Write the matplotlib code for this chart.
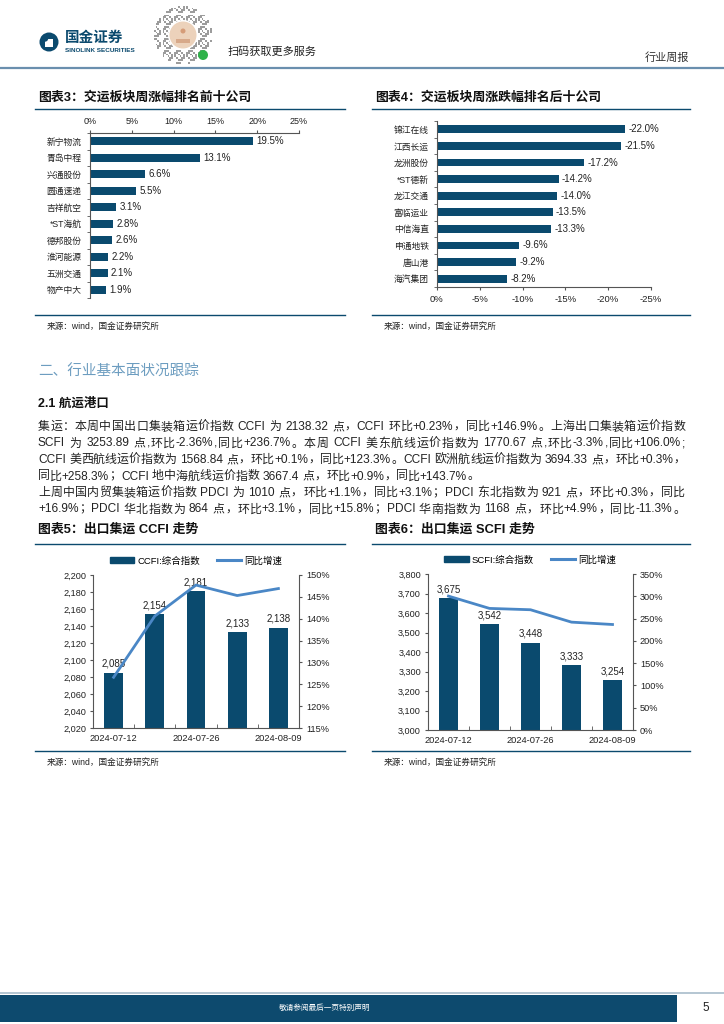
import re
import numpy as np
import matplotlib
matplotlib.use('Agg')
import matplotlib.pyplot as plt
from matplotlib.patches import Rectangle, Circle
from matplotlib.lines import Line2D
from matplotlib import font_manager as fm
from matplotlib.ft2font import FT2Font
from matplotlib.ticker import FuncFormatter, FixedLocator

plt.rcParams['font.family'] = ['Liberation Sans', 'Noto Sans CJK SC', 'DejaVu Sans']

# ---------------- data ----------------
top_names = ['新宁物流', '青岛中程', '兴通股份', '圆通速递', '吉祥航空',
             '*ST海航', '德邦股份', '淮河能源', '五洲交通', '物产中大']
top_vals = [19.5, 13.1, 6.6, 5.5, 3.1, 2.8, 2.6, 2.2, 2.1, 1.9]
top_ticks = [0, 5, 10, 15, 20, 25]

bot_names = ['锦江在线', '江西长运', '龙洲股份', '*ST德新', '龙江交通',
             '富临运业', '中信海直', '申通地铁', '唐山港', '海汽集团']
bot_vals = [-22.0, -21.5, -17.2, -14.2, -14.0, -13.5, -13.3, -9.6, -9.2, -8.2]
bot_ticks = [0, -5, -10, -15, -20, -25]

dates = ['2024-07-12', '2024-07-19', '2024-07-26', '2024-08-02', '2024-08-09']
ccfi = [2085, 2154, 2181, 2133, 2138]
ccfi_yoy = [126.6, 140.6, 147.7, 145.3, 146.9]
scfi = [3675, 3542, 3448, 3333, 3254]
scfi_yoy = [300.4, 272.8, 269.8, 242.0, 236.7]

para_lines = [
    "集运：本周中国出口集装箱运价指数 CCFI 为 2138.32 点，CCFI 环比+0.23%，同比+146.9%。上海出口集装箱运价指数",
    "SCFI 为 3253.89 点,环比-2.36%,同比+236.7%。本周 CCFI 美东航线运价指数为 1770.67 点,环比-3.3%,同比+106.0%;",
    "CCFI 美西航线运价指数为 1568.84 点，环比+0.1%，同比+123.3%。CCFI 欧洲航线运价指数为 3694.33 点，环比+0.3%，",
    "同比+258.3%；CCFI 地中海航线运价指数 3667.4 点，环比+0.9%，同比+143.7%。",
    "上周中国内贸集装箱运价指数 PDCI 为 1010 点，环比+1.1%，同比+3.1%；PDCI 东北指数为 921 点，环比+0.3%，同比",
    "+16.9%；PDCI 华北指数为 864 点，环比+3.1%，同比+15.8%；PDCI 华南指数为 1168 点，环比+4.9%，同比-11.3%。",
]
para_y = [427, 443.5, 460, 476.5, 493, 509.5]
para_justify = [True, True, True, False, True, True]

# ---------------- styles ----------------
W, H = 724, 1024
NAVY = '#0b4a6e'
BAR = '#0a4a6e'
LINE = '#4a87c6'
DARK = '#222222'
SPINE = '#555555'

fig = plt.figure(figsize=(7.24, 10.24), dpi=100)


def box(l, t, r, b):
    return [l / W, 1 - b / H, (r - l) / W, (b - t) / H]


bg = fig.add_axes([0, 0, 1, 1], zorder=0)
bg.set_xlim(0, W)
bg.set_ylim(H, 0)
bg.axis('off')

# ---------------- header ----------------
bg.add_patch(Circle((49, 42), 9.5, color=NAVY, lw=0))
bg.add_patch(Rectangle((45, 38.5), 7.5, 8, color='white', lw=0))
bg.add_patch(Circle((45, 38.5), 3.2, color=NAVY, lw=0))
bg.text(65, 38, '国金证券', fontsize=10.5, weight='bold', color=NAVY, va='center', ha='left')
bg.text(65, 50, 'SINOLINK SECURITIES', fontsize=4.6, weight='bold', color=NAVY, va='center', ha='left')

# QR-like badge (decorative)
n = 34
ii, jj = np.meshgrid(np.arange(n), np.arange(n), indexing='ij')
pat = ((ii * 31 + jj * 17 + ii * jj) % 7) < 3
cc = (n - 1) / 2
rr = np.hypot(ii - cc, jj - cc)
img = np.ones((n, n, 4))
img[..., :3] = 0.3
img[..., 3] = np.where(pat & (rr < n / 2), 0.55, 0.0)
bg.imshow(img, extent=(154, 212, 64, 6), interpolation='nearest', zorder=1)
bg.add_patch(Circle((183, 35), 15, color='white', lw=0, zorder=2))
bg.add_patch(Circle((183, 35), 13.5, color='#ecd2bb', lw=0, zorder=2))
bg.add_patch(Circle((183, 31), 2.5, color='#d59c78', lw=0, zorder=3))
bg.add_patch(Rectangle((176, 39), 14, 4, color='#d7a98a', lw=0, zorder=3))
bg.add_patch(Circle((203, 55), 5, color='#2fb24a', lw=0, zorder=3))
bg.text(228, 52, '扫码获取更多服务', fontsize=8, color=DARK, va='center', ha='left')
bg.text(689, 58, '行业周报', fontsize=8, color='#333333', va='center', ha='right')
bg.plot([0, W], [68, 68], color='#6a8fae', lw=1.6)

# ---------------- section titles / lines ----------------
def chart_frame(x0, x1, title, y_title, y_line, y_src_line, y_src):
    bg.text(x0 + 3, y_title, title, fontsize=9.3, weight='bold', color='#111111', va='center', ha='left')
    bg.plot([x0, x1], [y_line, y_line], color=NAVY, lw=1.0)
    bg.plot([x0, x1], [y_src_line, y_src_line], color=NAVY, lw=1.0)
    bg.text(x0 + 12, y_src, '来源：wind，国金证券研究所', fontsize=6.2, color=DARK, va='center', ha='left')


chart_frame(35, 345, '图表3：交运板块周涨幅排名前十公司', 97, 109, 315, 326)
chart_frame(372, 690, '图表4：交运板块周涨跌幅排名后十公司', 97, 109, 315, 326)
chart_frame(35, 345, '图表5：出口集运 CCFI 走势', 530, 544, 751, 762)
chart_frame(372, 690, '图表6：出口集运 SCFI 走势', 530, 544, 751, 762)

bg.text(38, 372, '二、行业基本面状况跟踪', fontsize=10.5, color='#6d9dc0', va='center', ha='left')
bg.text(38, 404, '2.1 航运港口', fontsize=9, weight='bold', color='#111111', va='center', ha='left')

# ---------------- paragraph (justified) ----------------
lat_path = fm.findfont(fm.FontProperties(family='Liberation Sans'))
cjk_path = fm.findfont(fm.FontProperties(family='Noto Sans CJK SC'))
ft_fonts = [FT2Font(lat_path), FT2Font(cjk_path)]
PFS = 8.6


def advance(ch, size):
    for f in ft_fonts:
        if f.get_char_index(ord(ch)):
            f.set_size(size, 100)
            g = f.load_char(ord(ch))
            return g.linearHoriAdvance / 65536
    return size * 100 / 72 * 0.5


X0, X1 = 38, 685
for line, yy, just in zip(para_lines, para_y, para_justify):
    toks = re.findall(r'[A-Za-z0-9.+\-%]+|.', line)
    widths = [sum(advance(c, PFS) for c in t) for t in toks]
    total = sum(widths)
    gap = (X1 - X0 - total) / (len(toks) - 1) if just else 0.0
    x = X0
    for t, w in zip(toks, widths):
        if t.strip():
            bg.text(x, yy, t, fontsize=PFS, color=DARK, va='center', ha='left')
        x += w + gap

# ---------------- footer ----------------
bg.plot([0, W], [993, 993], color='#a8bccb', lw=1.2)
bg.add_patch(Rectangle((0, 995), 677, 27, color='#0d4a6e', lw=0))
bg.text(325, 1008, '敬请参阅最后一页特别声明', fontsize=5.5, color='white', va='center', ha='center')
bg.text(706, 1008, '5', fontsize=8.5, color=DARK, va='center', ha='center')


# ---------------- chart 3 ----------------
def style_spines(ax, show):
    for k, s in ax.spines.items():
        s.set_visible(k in show)
        s.set_color(SPINE)
        s.set_linewidth(0.8)


ax3 = fig.add_axes(box(90, 133, 299, 298))
y3 = np.arange(len(top_vals))
ax3.barh(y3, top_vals, height=0.46, color=BAR)
ax3.set_xlim(0, 25)
ax3.set_ylim(len(top_vals) - 0.5, -0.5)
ax3.xaxis.tick_top()
ax3.set_xticks(top_ticks)
ax3.set_xticklabels([f'{t}%' for t in top_ticks], fontsize=6.5, color=DARK)
ax3.set_yticks(y3)
ax3.set_yticklabels(top_names, fontsize=6.3, color=DARK)
ax3.yaxis.set_minor_locator(FixedLocator(np.arange(-0.5, len(top_vals), 1)))
ax3.tick_params(axis='y', which='major', length=0, pad=6)
ax3.tick_params(axis='y', which='minor', length=2, color=SPINE)
ax3.tick_params(axis='x', length=2, color=SPINE, pad=3)
style_spines(ax3, ['top', 'left'])
for i, v in enumerate(top_vals):
    ax3.text(v + 0.4, i, f'{v:.1f}%', va='center', ha='left', fontsize=7, color=DARK)

# ---------------- chart 4 ----------------
ax4 = fig.add_axes(box(437, 121, 651, 287))
y4 = np.arange(len(bot_vals))
ax4.barh(y4, bot_vals, height=0.46, color=BAR)
ax4.set_xlim(0, -25)
ax4.set_ylim(len(bot_vals) - 0.5, -0.5)
ax4.set_xticks(bot_ticks)
ax4.set_xticklabels([f'{t}%' for t in bot_ticks], fontsize=6.8, color=DARK)
ax4.set_yticks(y4)
ax4.set_yticklabels(bot_names, fontsize=6.3, color=DARK)
ax4.yaxis.set_minor_locator(FixedLocator(np.arange(-0.5, len(bot_vals), 1)))
ax4.tick_params(axis='y', which='major', length=0, pad=6)
ax4.tick_params(axis='y', which='minor', length=2, color=SPINE)
ax4.tick_params(axis='x', length=2, color=SPINE, pad=4)
style_spines(ax4, ['bottom', 'left'])
for i, v in enumerate(bot_vals):
    ax4.text(v - 0.4, i, f'{v:.1f}%', va='center', ha='left', fontsize=7, color=DARK)


# ---------------- combo charts ----------------
def combo(rect, vals, yoy, ylo, yhi, ystep, rlo, rhi, rstep, bar_label, legend_xy):
    ax = fig.add_axes(rect)
    x = np.arange(len(vals))
    ax.bar(x, [v - ylo for v in vals], bottom=ylo, width=0.46, color=BAR, zorder=2)
    ax.set_xlim(-0.5, len(vals) - 0.5)
    ax.set_ylim(ylo, yhi)
    ax.set_yticks(np.arange(ylo, yhi + 1, ystep))
    ax.yaxis.set_major_formatter(FuncFormatter(lambda v, p: f'{int(v):,}'))
    ax.set_xticks([0, 2, 4])
    ax.set_xticklabels([dates[0], dates[2], dates[4]], fontsize=6.7, color=DARK)
    ax.xaxis.set_minor_locator(FixedLocator(np.arange(0.5, len(vals) - 1, 1)))
    ax.tick_params(axis='x', which='major', length=0, pad=4)
    ax.tick_params(axis='x', which='minor', length=3, direction='in', color=SPINE)
    ax.tick_params(axis='y', labelsize=6.6, labelcolor=DARK, length=2, color=SPINE, pad=3)
    style_spines(ax, ['left', 'bottom', 'right'])
    for i, v in enumerate(vals):
        ax.text(i, v + (yhi - ylo) * 0.025, f'{v:,}', ha='center', va='bottom', fontsize=7, color=DARK, zorder=4)
    ax2 = ax.twinx()
    ax2.plot(x, yoy, color=LINE, lw=2.0, zorder=3)
    ax2.set_ylim(rlo, rhi)
    ax2.set_yticks(np.arange(rlo, rhi + 1, rstep))
    ax2.yaxis.set_major_formatter(FuncFormatter(lambda v, p: f'{int(v)}%'))
    ax2.tick_params(axis='y', labelsize=6.6, labelcolor=DARK, length=2, color=SPINE, pad=3)
    style_spines(ax2, [])
    handles = [Rectangle((0, 0), 1, 1, color=BAR), Line2D([0], [0], color=LINE, lw=2.2)]
    fig.legend(handles, [bar_label, '同比增速'], loc='center',
               bbox_to_anchor=(legend_xy[0] / W, 1 - legend_xy[1] / H),
               ncol=2, frameon=False, fontsize=6.8, handlelength=2.6, handleheight=0.6,
               columnspacing=1.8, handletextpad=0.3)
    return ax, ax2


combo(box(93, 575, 299, 728), ccfi, ccfi_yoy, 2020, 2200, 20, 115, 150, 5,
      'CCFI:综合指数', (196, 561))
combo(box(428, 574, 633, 730), scfi, scfi_yoy, 3000, 3800, 100, 0, 350, 50,
      'SCFI:综合指数', (530, 560))

fig.savefig('out.png', dpi=100)
